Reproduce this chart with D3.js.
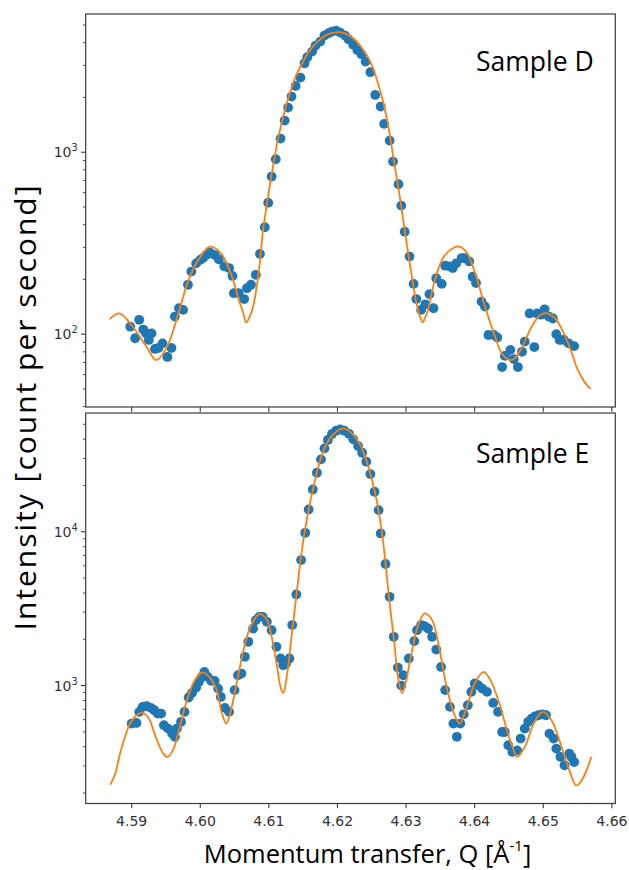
<!DOCTYPE html>
<html><head><meta charset="utf-8">
<script src="https://cdn.jsdelivr.net/npm/d3@7"></script>
<style>body{margin:0;background:#fff}svg{display:block}</style>
</head><body>
<script>
// ---------- DATA ----------
const qTicks = [4.59, 4.60, 4.61, 4.62, 4.63, 4.64, 4.65, 4.66];
const qTickLabels = ["4.59", "4.60", "4.61", "4.62", "4.63", "4.64", "4.65", "4.66"];
const qDomain = [4.5833, 4.6605];

const panelLabels = ["Sample D", "Sample E"];
const yDomainD = [39.8, 5750];
const yDomainE = [171, 59200];
const yMajorD = [100, 1000];
const yMajorLabelsD = [["10", "2"], ["10", "3"]];
const yMajorE = [1000, 10000];
const yMajorLabelsE = [["10", "3"], ["10", "4"]];

const xTitle = "Momentum transfer, Q [Å";
const xTitleSup = "-1";
const xTitleEnd = "]";
const yTitle = "Intensity [count per second]";

// Sample D measured points
const dQ = [4.5898,4.5905,4.5911,4.5917,4.5921,4.5925,4.5929,4.5934,4.5939,4.5945,4.5952,4.5958,4.5963,4.5969,4.5975,4.5982,4.5987,4.5994,4.6000,4.6004,4.6009,4.6014,4.6021,4.6027,4.6035,4.6042,4.6047,4.6049,4.6056,4.6064,4.6068,4.6074,4.6081,4.6087,4.6094,4.6099,4.6104,4.6110,4.6117,4.6123,4.6128,4.6133,4.6139,4.6146,4.6152,4.6156,4.6163,4.6168,4.6175,4.6181,4.6187,4.6192,4.6198,4.6204,4.6211,4.6216,4.6223,4.6229,4.6235,4.6241,4.6248,4.6255,4.6263,4.6268,4.6276,4.6281,4.6289,4.6293,4.6298,4.6305,4.6311,4.6315,4.6322,4.6328,4.6334,4.6340,4.6344,4.6352,4.6357,4.6363,4.6368,4.6373,4.6381,4.6385,4.6392,4.6397,4.6402,4.6410,4.6415,4.6420,4.6428,4.6433,4.6440,4.6444,4.6452,4.6457,4.6463,4.6469,4.6473,4.6480,4.6487,4.6491,4.6496,4.6502,4.6508,4.6514,4.6519,4.6524,4.6530,4.6537,4.6545];
const dI = [110,95,120,106,101,93,101,83,84,89,75,84,125,139,136,187,221,245,256,262,273,281,273,258,236,231,209,168,168,156,179,187,212,276,387,528,735,915,1189,1493,1758,2023,2313,2570,3083,3327,3573,3855,4055,4376,4508,4603,4660,4545,4376,4178,3890,3650,3453,3148,2754,2065,1782,1432,1159,889,667,509,366,267,189,156,136,146,166,139,203,189,238,236,231,245,262,262,251,207,191,151,142,99,99,96,66,76,82,73,66,80,91,130,85,130,128,137,125,122,100,93,93,89,86];

// Sample D fit
const dFitQ = [4.5868,4.5882,4.5900,4.5921,4.5936,4.5952,4.5968,4.5983,4.5999,4.6014,4.6030,4.6046,4.6056,4.6062,4.6067,4.6072,4.6077,4.6085,4.6091,4.6098,4.6106,4.6113,4.6121,4.6129,4.6139,4.6150,4.6160,4.6171,4.6184,4.6197,4.6210,4.6223,4.6236,4.6249,4.6259,4.6267,4.6275,4.6282,4.6290,4.6298,4.6306,4.6314,4.6319,4.6324,4.6328,4.6332,4.6342,4.6355,4.6368,4.6378,4.6389,4.6402,4.6415,4.6428,4.6441,4.6454,4.6467,4.6483,4.6496,4.6506,4.6519,4.6530,4.6540,4.6550,4.6561,4.6569];
const dFitI = [121,130,112,86,72,86,130,199,262,303,279,208,155,133,116,125,142,216,359,547,834,1169,1571,2023,2606,3150,3650,4055,4415,4563,4508,4230,3725,3083,2393,1858,1328,907,596,374,236,155,130,116,124,136,199,267,297,303,279,208,142,101,77,72,82,110,128,130,120,101,82,64,54,50];

// Sample E measured points
const eQ = [4.5900,4.5907,4.5911,4.5916,4.5922,4.5928,4.5933,4.5938,4.5943,4.5947,4.5953,4.5959,4.5963,4.5966,4.5972,4.5977,4.5983,4.5988,4.5994,4.5998,4.6002,4.6006,4.6011,4.6016,4.6021,4.6026,4.6030,4.6036,4.6042,4.6050,4.6055,4.6060,4.6065,4.6070,4.6077,4.6081,4.6086,4.6091,4.6097,4.6104,4.6111,4.6117,4.6121,4.6125,4.6130,4.6134,4.6140,4.6147,4.6153,4.6158,4.6164,4.6170,4.6176,4.6181,4.6186,4.6192,4.6198,4.6204,4.6210,4.6217,4.6223,4.6230,4.6236,4.6242,4.6248,4.6254,4.6260,4.6263,4.6270,4.6276,4.6282,4.6288,4.6293,4.6296,4.6304,4.6312,4.6316,4.6322,4.6327,4.6332,4.6338,4.6344,4.6351,4.6357,4.6364,4.6369,4.6374,4.6379,4.6384,4.6390,4.6395,4.6400,4.6405,4.6411,4.6418,4.6427,4.6434,4.6440,4.6444,4.6449,4.6455,4.6462,4.6467,4.6473,4.6478,4.6483,4.6488,4.6493,4.6499,4.6504,4.6509,4.6515,4.6519,4.6525,4.6531,4.6538,4.6541,4.6545];
const eI = [566,571,674,727,734,716,691,657,657,552,525,487,464,525,581,674,836,896,970,1056,1138,1227,1138,1072,1072,955,843,716,674,934,1167,1197,1538,1925,2349,2660,2797,2797,2596,2291,1786,1500,1357,1390,1500,2474,3908,6550,9850,13970,18840,24190,29560,34850,39500,43250,45430,46340,45430,43250,39910,36080,32650,28560,23720,18200,13830,9750,6170,3776,2074,1309,1000,1167,1500,1945,2291,2474,2434,2349,2074,1714,1321,934,727,566,464,566,650,745,910,1031,1005,955,910,771,674,499,499,409,370,379,452,525,581,610,631,641,650,641,487,452,389,344,303,361,344,318];

// Sample E fit
const eFitQ = [4.5869,4.5876,4.5883,4.5891,4.5899,4.5909,4.5916,4.5925,4.5935,4.5946,4.5952,4.5960,4.5969,4.5979,4.5992,4.6003,4.6013,4.6024,4.6031,4.6038,4.6044,4.6052,4.6063,4.6073,4.6086,4.6096,4.6104,4.6112,4.6117,4.6121,4.6126,4.6133,4.6141,4.6148,4.6156,4.6164,4.6172,4.6182,4.6193,4.6208,4.6221,4.6232,4.6242,4.6249,4.6257,4.6265,4.6271,4.6276,4.6283,4.6288,4.6294,4.6299,4.6307,4.6317,4.6327,4.6338,4.6348,4.6358,4.6369,4.6378,4.6387,4.6400,4.6413,4.6423,4.6436,4.6447,4.6455,4.6462,4.6473,4.6486,4.6499,4.6512,4.6525,4.6538,4.6548,4.6556,4.6564,4.6570];
const eFitI = [227,268,361,475,581,651,667,610,464,361,344,379,512,764,1084,1216,1138,934,674,566,674,979,1698,2410,2913,2729,2074,1321,979,896,1138,2074,4168,7608,12520,18660,26490,35710,42560,47000,43630,37580,29240,22800,16070,9750,5640,3420,1875,1138,896,1031,1538,2410,2944,2663,1786,1031,674,566,691,1031,1227,1084,764,512,399,344,399,566,674,595,420,281,224,242,288,344];

// ---------- LAYOUT ----------
const W = 629, H = 870;
const L = 85.7, R = 615.3;
const panels = [
  {top: 14, bottom: 407, dom: yDomainD, major: yMajorD, majorLab: yMajorLabelsD, q: dQ, I: dI, fq: dFitQ, fI: dFitI, label: panelLabels[0], xLabels: false, labelY: 71},
  {top: 413, bottom: 803.5, dom: yDomainE, major: yMajorE, majorLab: yMajorLabelsE, q: eQ, I: eI, fq: eFitQ, fI: eFitI, label: panelLabels[1], xLabels: true, labelY: 463}
];
const axisColor = "#3a3a3a";
const tickFont = "DejaVu Sans, sans-serif";
const titleFont = "'Open Sans', 'Noto Sans', sans-serif";

const svg = d3.select("body").append("svg").attr("width", W).attr("height", H);
const x = d3.scaleLinear().domain(qDomain).range([L, R]);

panels.forEach((p, pi) => {
  const y = d3.scaleLog().domain(p.dom).range([p.bottom, p.top]);
  const g = svg.append("g");
  const clipId = "clip" + pi;
  svg.append("clipPath").attr("id", clipId).append("rect")
    .attr("x", L).attr("y", p.top).attr("width", R - L).attr("height", p.bottom - p.top);

  const plot = g.append("g").attr("clip-path", `url(#${clipId})`);
  plot.selectAll("circle").data(p.q.map((q, i) => [q, p.I[i]])).join("circle")
    .attr("cx", d => x(d[0])).attr("cy", d => y(d[1])).attr("r", 4.9)
    .attr("fill", "#1f77b4");
  const line = d3.line().x(d => x(d[0])).y(d => y(d[1])).curve(d3.curveCatmullRom.alpha(0.5));
  plot.append("path").datum(p.fq.map((q, i) => [q, p.fI[i]]))
    .attr("d", line).attr("fill", "none").attr("stroke", "#ff7f0e").attr("stroke-width", 1.8);

  // frame
  g.append("rect").attr("x", L).attr("y", p.top).attr("width", R - L).attr("height", p.bottom - p.top)
    .attr("fill", "none").attr("stroke", axisColor).attr("stroke-width", 1.2);

  // x ticks
  g.selectAll(".xt").data(qTicks).join("line")
    .attr("x1", d => x(d)).attr("x2", d => x(d))
    .attr("y1", p.bottom).attr("y2", p.bottom + 4.7)
    .attr("stroke", axisColor).attr("stroke-width", 1.1);
  if (p.xLabels) {
    g.selectAll(".xl").data(qTicks).join("text")
      .attr("x", d => x(d)).attr("y", p.bottom + 22)
      .attr("text-anchor", "middle").attr("font-family", tickFont).attr("font-size", 14)
      .attr("fill", "#333").text((d, i) => qTickLabels[i]);
  }

  // y minor ticks
  const minor = [];
  const lo = Math.floor(Math.log10(p.dom[0])), hi = Math.ceil(Math.log10(p.dom[1]));
  for (let k = lo; k <= hi; k++) for (let m = 2; m <= 9; m++) {
    const v = m * Math.pow(10, k);
    if (v >= p.dom[0] && v <= p.dom[1]) minor.push(v);
  }
  g.selectAll(".ym").data(minor).join("line")
    .attr("x1", L).attr("x2", L - 2.7).attr("y1", d => y(d)).attr("y2", d => y(d))
    .attr("stroke", axisColor).attr("stroke-width", 0.9);
  g.selectAll(".yM").data(p.major).join("line")
    .attr("x1", L).attr("x2", L - 4.7).attr("y1", d => y(d)).attr("y2", d => y(d))
    .attr("stroke", axisColor).attr("stroke-width", 1.1);
  const yl = g.selectAll(".yl").data(p.major).join("text")
    .attr("x", L - 8).attr("y", d => y(d) + 5)
    .attr("text-anchor", "end").attr("font-family", tickFont).attr("font-size", 14).attr("fill", "#333");
  yl.append("tspan").text((d, i) => p.majorLab[i][0]);
  yl.append("tspan").attr("font-size", 9.8).attr("dy", -6).text((d, i) => p.majorLab[i][1]);

  // panel label
  g.append("text").attr("x", 476).attr("y", p.labelY)
    .attr("font-family", titleFont).attr("font-size", 26.5).attr("fill", "#000").text(p.label);
});

// axis titles
const xt = svg.append("text").attr("x", (L + R) / 2 + 17).attr("y", 863)
  .attr("text-anchor", "middle").attr("font-family", titleFont).attr("font-size", 25.5).attr("fill", "#000");
xt.append("tspan").text(xTitle);
xt.append("tspan").attr("font-size", 15).attr("dy", -12).text(xTitleSup);
xt.append("tspan").attr("dy", 12).text(xTitleEnd);

svg.append("text").attr("transform", `translate(36,408) rotate(-90)`)
  .attr("text-anchor", "middle").attr("font-family", titleFont).attr("font-size", 30).attr("fill", "#000")
  .attr("textLength", 445).attr("lengthAdjust", "spacing")
  .text(yTitle);
</script>
</body></html>
